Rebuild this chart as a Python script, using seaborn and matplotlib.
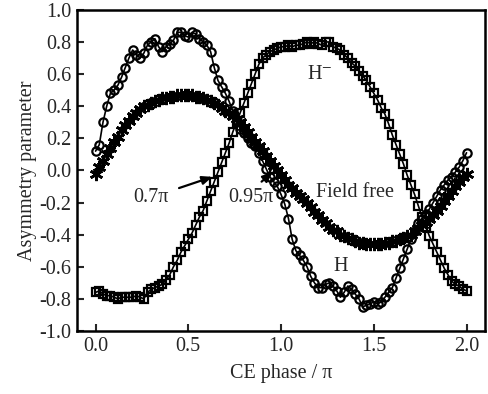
import numpy as np
import seaborn as sns
import matplotlib
matplotlib.use('Agg')
import matplotlib.pyplot as plt
from matplotlib.ticker import FormatStrFormatter, MultipleLocator

# ---------- data ----------
phase = np.round(np.arange(0, 2.001, 0.02), 2)

# H (circles)
asym_h = [
    0.12, 0.16, 0.30, 0.40, 0.48, 0.50, 0.53, 0.58, 0.64, 0.70,
    0.75, 0.72, 0.70, 0.73, 0.78, 0.80, 0.82, 0.77, 0.74, 0.77,
    0.79, 0.81, 0.86, 0.86, 0.84, 0.83, 0.86, 0.85, 0.82, 0.80,
    0.78, 0.74, 0.64, 0.56, 0.52, 0.48, 0.43, 0.37, 0.31, 0.26,
    0.23, 0.20, 0.17, 0.15, 0.11, 0.06, 0.01, -0.04, -0.07, -0.10,
    -0.15, -0.21, -0.30, -0.43, -0.50, -0.53, -0.56, -0.60, -0.66, -0.70,
    -0.73, -0.73, -0.71, -0.70, -0.72, -0.75, -0.79, -0.76, -0.72, -0.74,
    -0.77, -0.80, -0.85, -0.84, -0.83, -0.82, -0.83, -0.82, -0.79, -0.76,
    -0.73, -0.67, -0.61, -0.55, -0.49, -0.43, -0.38, -0.33, -0.30, -0.27,
    -0.24, -0.20, -0.16, -0.12, -0.09, -0.06, -0.04, -0.01, 0.02, 0.06,
    0.11,
]

# H- (squares)
asym_hminus = [
    -0.76, -0.75, -0.77, -0.78, -0.78, -0.79, -0.80, -0.79, -0.79, -0.79,
    -0.79, -0.78, -0.79, -0.80, -0.76, -0.74, -0.73, -0.72, -0.71, -0.68,
    -0.65, -0.60, -0.56, -0.51, -0.47, -0.43, -0.39, -0.34, -0.29, -0.25,
    -0.19, -0.13, -0.07, -0.01, 0.05, 0.11, 0.17, 0.24, 0.30, 0.36,
    0.42, 0.48, 0.54, 0.60, 0.66, 0.70, 0.72, 0.74, 0.75, 0.76,
    0.77, 0.77, 0.78, 0.77, 0.78, 0.78, 0.79, 0.80, 0.79, 0.80,
    0.79, 0.78, 0.80, 0.80, 0.77, 0.76, 0.75, 0.72, 0.70, 0.67,
    0.65, 0.62, 0.59, 0.56, 0.52, 0.48, 0.44, 0.39, 0.35, 0.29,
    0.22, 0.16, 0.10, 0.04, -0.03, -0.09, -0.15, -0.22, -0.29, -0.35,
    -0.41, -0.46, -0.51, -0.56, -0.61, -0.65, -0.69, -0.71, -0.72, -0.74,
    -0.75,
]

# field free (stars)
asym_free = [
    -0.02, 0.02, 0.06, 0.10, 0.14, 0.18, 0.21, 0.25, 0.28, 0.31,
    0.34, 0.36, 0.38, 0.40, 0.41, 0.42, 0.43, 0.44, 0.45, 0.45,
    0.46, 0.46, 0.47, 0.47, 0.47, 0.47, 0.47, 0.46, 0.46, 0.45,
    0.44, 0.43, 0.42, 0.41, 0.39, 0.37, 0.36, 0.34, 0.32, 0.30,
    0.27, 0.24, 0.21, 0.18, 0.15, 0.12, 0.09, 0.06, 0.03, 0.00,
    -0.03, -0.06, -0.09, -0.11, -0.14, -0.16, -0.18, -0.20, -0.23, -0.26,
    -0.28, -0.31, -0.33, -0.35, -0.37, -0.38, -0.40, -0.41, -0.42, -0.43,
    -0.44, -0.45, -0.45, -0.46, -0.46, -0.46, -0.46, -0.46, -0.45, -0.45,
    -0.44, -0.44, -0.43, -0.42, -0.41, -0.40, -0.38, -0.36, -0.34, -0.32,
    -0.30, -0.28, -0.25, -0.22, -0.19, -0.16, -0.13, -0.10, -0.07, -0.04,
    -0.02,
]

# ---------- style ----------
sns.set_style('ticks')
plt.rcParams['font.family'] = ['Liberation Serif', 'DejaVu Serif']
plt.rcParams['mathtext.fontset'] = 'stix'
plt.rcParams['axes.unicode_minus'] = False
FS = 14.5

fig, ax = plt.subplots(figsize=(4.89, 3.94), dpi=100)
fig.subplots_adjust(left=0.1575, right=0.992, bottom=0.16, top=0.975)

# ---------- curves ----------
sns.lineplot(x=phase, y=asym_free, ax=ax, color='black', lw=1.2,
             marker=(6, 2, 0), markersize=9.5, markeredgewidth=1.9,
             markeredgecolor='black')
sns.lineplot(x=phase, y=asym_hminus, ax=ax, color='black', lw=1.2,
             marker='s', markersize=5.5, fillstyle='none',
             markeredgewidth=1.6, markeredgecolor='black')
sns.lineplot(x=phase, y=asym_h, ax=ax, color='black', lw=1.2,
             marker='o', markersize=6, fillstyle='none',
             markeredgewidth=1.6, markeredgecolor='black')

# ---------- labels ----------
ax.text(1.21, 0.60, 'H$^{-}$', fontsize=FS, ha='center', va='center')
ax.text(1.32, -0.60, 'H', fontsize=FS, ha='center', va='center')
ax.text(1.40, -0.14, 'Field free', fontsize=FS, ha='center', va='center')

arrow = dict(arrowstyle='-|>,head_length=0.6,head_width=0.25',
             color='black', lw=1.6, shrinkA=0, shrinkB=0)
ax.text(0.30, -0.17, '0.7π', fontsize=FS, ha='center', va='center')
ax.annotate('', xy=(0.63, -0.04), xytext=(0.45, -0.11), arrowprops=arrow,
            zorder=6)
ax.text(0.84, -0.17, '0.95π', fontsize=FS, ha='center', va='center')
ax.annotate('', xy=(0.955, -0.01), xytext=(0.895, -0.07), arrowprops=arrow,
            zorder=6)

# ---------- axes ----------
ax.set_xlim(-0.1, 2.1)
ax.set_ylim(-1.0, 1.0)
ax.xaxis.set_major_locator(MultipleLocator(0.5))
ax.yaxis.set_major_locator(MultipleLocator(0.2))
ax.xaxis.set_major_formatter(FormatStrFormatter('%.1f'))
ax.yaxis.set_major_formatter(FormatStrFormatter('%.1f'))
ax.tick_params(direction='in', length=5, width=1.5, labelsize=FS,
               top=False, right=False, pad=4)
for sp in ax.spines.values():
    sp.set_linewidth(1.8)
    sp.set_color('black')
    sp.set_visible(True)

ax.set_xlabel('CE phase / π', fontsize=FS, labelpad=6)
ax.set_ylabel('Asymmetry parameter', fontsize=FS, labelpad=2)

fig.savefig('out.png', dpi=100)
